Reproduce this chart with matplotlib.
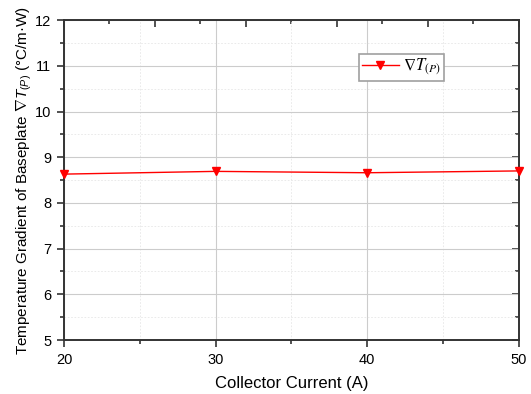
import matplotlib
matplotlib.use("Agg")
import matplotlib.pyplot as plt
from matplotlib.ticker import MultipleLocator

plt.rcParams['font.family'] = ['Liberation Sans', 'DejaVu Sans']
plt.rcParams['mathtext.fontset'] = 'custom'
plt.rcParams['mathtext.rm'] = 'Liberation Sans'
plt.rcParams['mathtext.it'] = 'Liberation Sans:italic'

# data
current = [20, 30, 40, 50]
gradient = [8.63, 8.69, 8.66, 8.70]

fig = plt.figure(figsize=(5.31, 3.94), dpi=100)
ax = fig.add_axes([0.1205, 0.137, 0.8565, 0.812])

ax.plot(current, gradient, color='red', lw=1, marker='v', ms=6,
        label=r'$\nabla T_{\mathit{(P)}}$', clip_on=False, zorder=5)

ax.set_xlim(20, 50)
ax.set_ylim(5, 12)
ax.xaxis.set_major_locator(MultipleLocator(10))
ax.xaxis.set_minor_locator(MultipleLocator(5))
ax.yaxis.set_major_locator(MultipleLocator(1))
ax.yaxis.set_minor_locator(MultipleLocator(0.5))

ax.grid(which='major', color='#cccccc', lw=0.8)
ax.grid(which='minor', color='#e6e6e6', lw=0.6, ls=(0, (2, 2)))
ax.set_axisbelow(True)

ax.tick_params(which='major', direction='out', length=5, width=1.2,
               color='#333333', labelsize=10.5, pad=4)
ax.tick_params(which='minor', direction='out', length=3, width=1.2,
               color='#333333')
for s in ax.spines.values():
    s.set_linewidth(1.4)
    s.set_color('#333333')

# top axis: inward ticks on its own spacing
top = ax.secondary_xaxis('top', functions=(lambda x: (x - 20) / 6,
                                           lambda t: t * 6 + 20))
top.xaxis.set_major_locator(MultipleLocator(1))
top.xaxis.set_minor_locator(MultipleLocator(0.5))
top.tick_params(which='major', direction='in', length=5, width=1.2,
                color='#333333', labeltop=False)
top.tick_params(which='minor', direction='in', length=3, width=1.2,
                color='#333333')
top.spines['top'].set_visible(False)

right = ax.secondary_yaxis('right')
right.yaxis.set_major_locator(MultipleLocator(1))
right.yaxis.set_minor_locator(MultipleLocator(0.5))
right.tick_params(which='major', direction='in', length=5, width=1.2,
                  color='#333333', labelright=False)
right.tick_params(which='minor', direction='in', length=3, width=1.2,
                  color='#333333')
right.spines['right'].set_visible(False)

ax.set_xlabel('Collector Current (A)', fontsize=12, labelpad=7)
ax.set_ylabel(r'Temperature Gradient of Baseplate $\nabla T_{\mathit{(P)}}$ (°C/m·W)',
              fontsize=11, labelpad=3)
ax.yaxis.set_label_coords(-0.066, 0.5)

leg = ax.legend(loc='upper left', bbox_to_anchor=(0.648, 0.895), fontsize=12,
                fancybox=False, edgecolor='#a0a0a0', framealpha=1,
                handlelength=2.2, borderpad=0.2, handletextpad=0.25,
                borderaxespad=0)
leg.get_frame().set_linewidth(1.2)
for t in leg.get_texts():
    t.set_math_fontfamily('stix')

fig.savefig('out.png', dpi=100)
